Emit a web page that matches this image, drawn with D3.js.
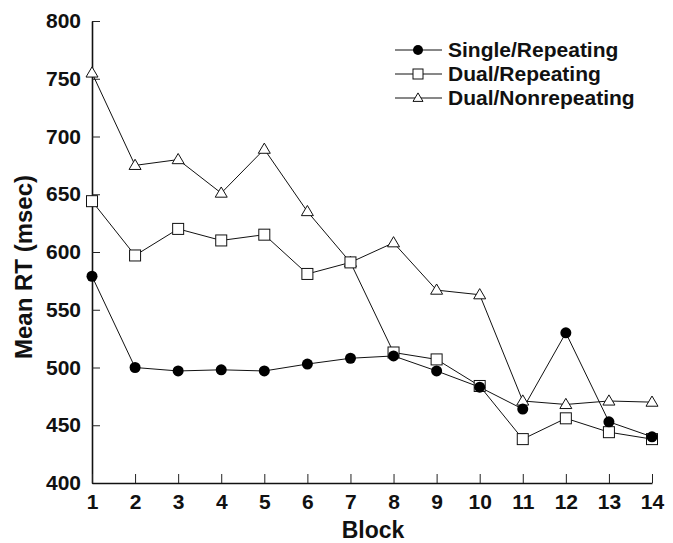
<!DOCTYPE html>
<html>
<head>
<meta charset="utf-8">
<script src="https://cdn.jsdelivr.net/npm/d3@7"></script>
<style>
  body { margin: 0; background: #fff; }
  svg { display: block; font-family: 'Liberation Sans', Arial, sans-serif; }
</style>
</head>
<body>
<div id="chart"></div>
<script>
const blocks = [1, 2, 3, 4, 5, 6, 7, 8, 9, 10, 11, 12, 13, 14]
const singleRepeating = [579, 500, 497, 498, 497, 503, 508, 510, 497, 483, 464, 530, 453, 440]
const dualRepeating = [644, 597, 620, 610, 615, 581, 591, 513, 507, 484, 438, 456, 444, 438]
const dualNonrepeating = [755, 675, 680, 651, 689, 635, 591, 608, 567, 563, 471, 468, 471, 470]
const yTicks = [400, 450, 500, 550, 600, 650, 700, 750, 800]
const seriesNames = ['Single/Repeating', 'Dual/Repeating', 'Dual/Nonrepeating']

const margin = { top: 21, right: 21, bottom: 60, left: 92 }
const width = 673 - margin.left - margin.right
const height = 543 - margin.top - margin.bottom

const svg = d3
  .select('#chart')
  .append('svg')
  .attr('width', 673)
  .attr('height', 543)
  .append('g')
  .attr('transform', 'translate(' + margin.left + ',' + margin.top + ')')

const x = d3.scaleLinear().domain([1, 14]).range([0, width])
const y = d3.scaleLinear().domain([400, 800]).range([height, 0])

// axes, ticks point inward like the original figure
const yAxis = d3.axisLeft(y).tickValues(yTicks).tickSize(-8).tickSizeOuter(0).tickPadding(11)
const xAxis = d3.axisBottom(x).tickValues(blocks).tickSize(-9).tickSizeOuter(0).tickPadding(11)

svg.append('g').attr('class', 'axis y-axis').call(yAxis)
svg.append('g').attr('class', 'axis x-axis')
  .attr('transform', 'translate(0,' + height + ')')
  .call(xAxis)

svg.selectAll('.axis .domain').attr('stroke', '#111').attr('stroke-width', 1.6)
svg.selectAll('.axis .tick line').attr('stroke', '#222').attr('stroke-width', 1)
svg.selectAll('.axis text')
  .attr('font-size', 21)
  .attr('font-weight', 'bold')
  .attr('font-family', "'Liberation Sans', Arial, sans-serif")
  .attr('fill', '#111')

svg.append('text')
  .attr('transform', 'translate(' + (-60) + ',' + (height / 2 + 15) + ') rotate(-90)')
  .attr('text-anchor', 'middle')
  .attr('font-size', 24)
  .attr('font-weight', 'bold')
  .attr('fill', '#111')
  .text('Mean RT (msec)')

svg.append('text')
  .attr('x', x(7.5) + 1)
  .attr('y', height + 55)
  .attr('text-anchor', 'middle')
  .attr('font-size', 23)
  .attr('font-weight', 'bold')
  .attr('fill', '#111')
  .text('Block')

const line = d3.line()
  .x((d, i) => x(blocks[i]))
  .y(d => y(d))

const series = [
  { name: seriesNames[2], values: dualNonrepeating, shape: 'triangle' },
  { name: seriesNames[1], values: dualRepeating, shape: 'square' },
  { name: seriesNames[0], values: singleRepeating, shape: 'circle' }
]

series.forEach(s => {
  svg.append('path')
    .datum(s.values)
    .attr('fill', 'none')
    .attr('stroke', '#111')
    .attr('stroke-width', 1)
    .attr('d', line)
})

function drawMarker(g, shape, cx, cy, size) {
  if (shape === 'circle') {
    g.append('circle').attr('cx', cx).attr('cy', cy).attr('r', size / 2)
      .attr('fill', '#000')
  } else if (shape === 'square') {
    g.append('rect').attr('x', cx - size / 2).attr('y', cy - size / 2)
      .attr('width', size).attr('height', size)
      .attr('fill', '#fff').attr('stroke', '#111').attr('stroke-width', 1)
  } else {
    const h = size * 0.85
    g.append('path')
      .attr('d', 'M' + cx + ',' + (cy - h * 0.6) + 'L' + (cx + size / 2) + ',' + (cy + h * 0.4) +
        'L' + (cx - size / 2) + ',' + (cy + h * 0.4) + 'Z')
      .attr('fill', '#fff').attr('stroke', '#111').attr('stroke-width', 1)
  }
}

series.forEach(s => {
  const g = svg.append('g')
  s.values.forEach((v, i) => {
    drawMarker(g, s.shape, x(blocks[i]), y(v), s.shape === 'triangle' ? 12 : 11)
  })
})

// legend
const legend = svg.append('g').attr('transform', 'translate(' + (395 - margin.left) + ',' + (50 - margin.top) + ')')
const legendShapes = ['circle', 'square', 'triangle']
seriesNames.forEach((name, i) => {
  const row = legend.append('g').attr('transform', 'translate(0,' + i * 24 + ')')
  row.append('line').attr('x1', 0).attr('x2', 47).attr('y1', 0).attr('y2', 0)
    .attr('stroke', '#111').attr('stroke-width', 1)
  drawMarker(row, legendShapes[i], 23, 0, 10)
  row.append('text')
    .attr('x', 53)
    .attr('y', 0)
    .attr('dy', '0.35em')
    .attr('font-size', 21)
    .attr('font-weight', 'bold')
    .attr('fill', '#111')
    .text(name)
})
</script>
</body>
</html>
